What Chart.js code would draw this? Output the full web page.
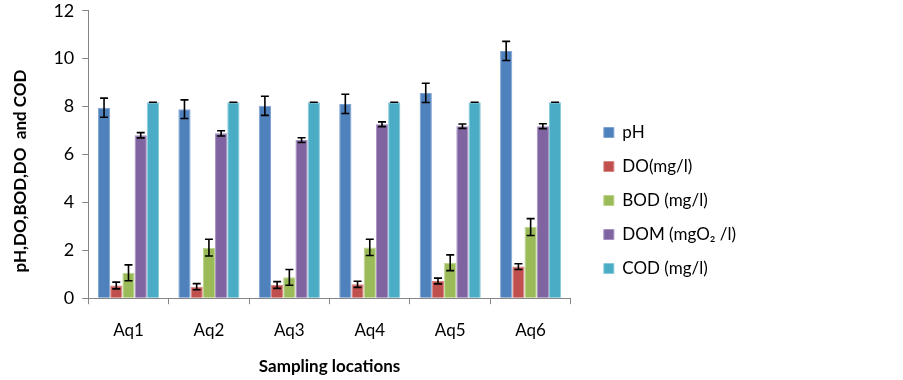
<!DOCTYPE html>
<html>
<head>
<meta charset="utf-8">
<script src="https://cdn.jsdelivr.net/npm/chart.js@4"></script>
<style>
  body { margin: 0; background: #fff; }
  #wrap { width: 903px; height: 380px; }
</style>
</head>
<body>
<div id="wrap"><canvas id="bar-chart"></canvas></div>
<script>
// values
var locations = ['Aq1', 'Aq2', 'Aq3', 'Aq4', 'Aq5', 'Aq6'];
var phValues  = [7.95, 7.89, 8.03, 8.11, 8.57, 10.32];
var doValues  = [0.53, 0.48, 0.55, 0.58, 0.72, 1.32];
var bodValues = [1.06, 2.11, 0.87, 2.12, 1.48, 2.97];
var domValues = [6.80, 6.88, 6.60, 7.26, 7.18, 7.18];
var codValues = [8.18, 8.18, 8.18, 8.18, 8.18, 8.18];

var phErr  = [0.40, 0.39, 0.40, 0.40, 0.40, 0.40];
var doErr  = [0.14, 0.13, 0.14, 0.13, 0.12, 0.12];
var bodErr = [0.33, 0.35, 0.33, 0.34, 0.33, 0.35];
var domErr = [0.11, 0.11, 0.10, 0.10, 0.09, 0.10];
var codErr = [0, 0, 0, 0, 0, 0];

var yTicks = [0, 2, 4, 6, 8, 10, 12];

var fontName = 'Lato';

// draws the error bars on top of every bar, through the y scale
var errorBars = {
  id: 'errorBars',
  afterDatasetsDraw: function(chart) {
    var ctx = chart.ctx;
    var yScale = chart.scales.y;
    ctx.save();
    ctx.strokeStyle = '#000';
    ctx.lineWidth = 1.6;
    chart.data.datasets.forEach(function(ds, i) {
      var meta = chart.getDatasetMeta(i);
      meta.data.forEach(function(bar, j) {
        var v = ds.data[j], e = ds.errors[j];
        var top = yScale.getPixelForValue(v + e);
        var bot = yScale.getPixelForValue(v - e);
        ctx.beginPath();
        ctx.moveTo(bar.x, top); ctx.lineTo(bar.x, bot);
        ctx.moveTo(bar.x - 4, top); ctx.lineTo(bar.x + 4, top);
        ctx.moveTo(bar.x - 4, bot); ctx.lineTo(bar.x + 4, bot);
        ctx.stroke();
      });
    });
    ctx.restore();
  }
};

// moves the legend a bit away from the plot and down
var legendShift = {
  id: 'legendShift',
  afterLayout: function(chart) {
    chart.legend.left += 16;
    chart.legend.right += 16;
    chart.legend.top += 12;
    chart.legend.bottom += 12;
  }
};

function series(label, values, errs, fill, edge) {
  return {
    label: label,
    data: values,
    errors: errs,
    backgroundColor: fill,
    borderColor: edge,
    borderWidth: 1,
    barPercentage: 1.0,
    categoryPercentage: 0.76
  };
}

new Chart(document.getElementById('bar-chart'), {
  type: 'bar',
  data: {
    labels: locations,
    datasets: [
      series('pH', phValues, phErr, '#4F81BD', '#7FA3D3'),
      series('DO(mg/l)', doValues, doErr, '#C0504D', '#D88583'),
      series('BOD (mg/l)', bodValues, bodErr, '#9BBB59', '#BBD38A'),
      series('DOM (mgO\u2082 /l)', domValues, domErr, '#8064A2', '#A690C0'),
      series('COD (mg/l)', codValues, codErr, '#4BACC6', '#86CADB')
    ]
  },
  plugins: [errorBars, legendShift],
  options: {
    responsive: true,
    maintainAspectRatio: false,
    animation: false,
    layout: {
      padding: { left: 10, right: 173, top: 0, bottom: 3 }
    },
    plugins: {
      tooltip: { enabled: false },
      legend: {
        position: 'right',
        labels: {
          boxWidth: 10,
          boxHeight: 10,
          padding: 17,
          color: '#000',
          font: { family: fontName, size: 17 }
        }
      }
    },
    scales: {
      x: {
        grid: { drawOnChartArea: false, drawTicks: true, tickLength: 6, color: '#868686' },
        border: { color: '#868686', width: 1 },
        ticks: { color: '#000', padding: 16, font: { family: fontName, size: 17 } },
        title: {
          display: true,
          text: 'Sampling locations',
          color: '#000',
          padding: { top: 0, bottom: 0 },
          font: { family: fontName, size: 17, weight: 'bold' }
        }
      },
      y: {
        min: 0,
        max: 12,
        afterBuildTicks: function(axis) {
          axis.ticks = yTicks.map(function(v) { return { value: v }; });
        },
        grid: { drawOnChartArea: false, drawTicks: true, tickLength: 6, color: '#868686' },
        border: { color: '#868686', width: 1 },
        ticks: { color: '#000', padding: 8, font: { family: fontName, size: 18, lineHeight: 0.3 } },
        title: {
          display: true,
          text: 'pH,DO,BOD,DO  and COD        ',
          color: '#000',
          padding: { top: 0, bottom: 15 },
          font: { family: fontName, size: 17, weight: 'bold' }
        }
      }
    }
  }
});
</script>
</body>
</html>
